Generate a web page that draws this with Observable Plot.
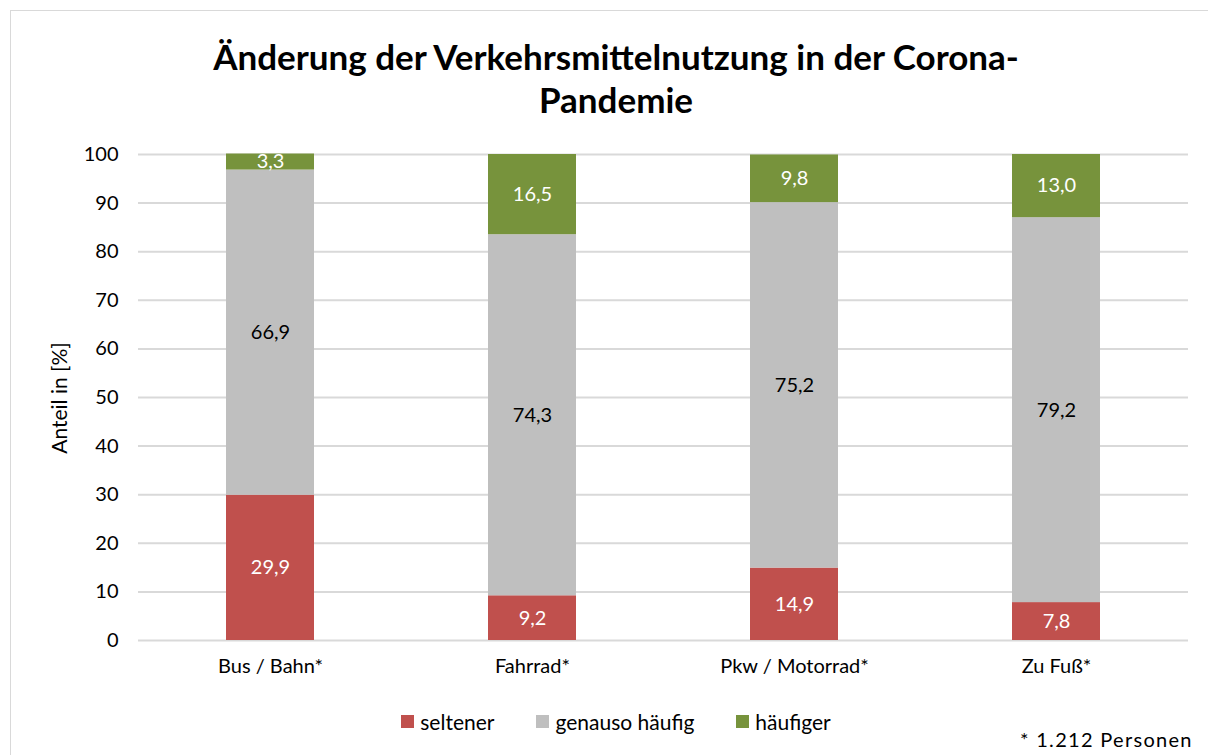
<!DOCTYPE html>
<html><head><meta charset="utf-8">
<script src="https://cdn.jsdelivr.net/npm/d3@7"></script>
<script src="https://cdn.jsdelivr.net/npm/@observablehq/plot@0.6"></script>
<style>
body{margin:0;background:#fff;font-family:Lato,"Open Sans",sans-serif;}
#frame{position:absolute;left:10px;top:10px;width:1210px;height:760px;border:1px solid #d9d9d9;box-sizing:border-box;}
#title{position:absolute;left:0;top:35px;width:1232px;text-align:center;font-weight:bold;font-size:35px;line-height:43px;color:#000;}
#chart{position:absolute;left:0;top:124px;}
#ylabel{position:absolute;left:58px;top:398px;transform:translate(-50%,-50%) rotate(-90deg);font-size:21px;white-space:nowrap;color:#000;}
#legend{position:absolute;top:709px;left:0;width:1232px;display:flex;justify-content:center;font-size:21px;color:#000;}
#legend span.item{display:flex;align-items:center;margin:0 21px;}
#legend span.sw{display:inline-block;width:13px;height:13px;margin-right:6px;}
#note{position:absolute;left:1020px;top:727px;font-size:20px;letter-spacing:1.3px;}
</style></head>
<body>
<div id="frame"></div>
<div id="title">Änderung der Verkehrsmittelnutzung in der Corona-<br>Pandemie</div>
<div id="chart"></div>
<div id="ylabel">Anteil in [%]</div>
<div id="legend"></div>
<div id="note">* 1.212 Personen</div>
<script>
const categories = ["Bus / Bahn*", "Fahrrad*", "Pkw / Motorrad*", "Zu Fuß*"];
const seriesNames = ["seltener", "genauso häufig", "häufiger"];
const seriesColors = ["#C0504D", "#BFBFBF", "#77933C"];
const seltener = [29.9, 9.2, 14.9, 7.8];
const genauso = [66.9, 74.3, 75.2, 79.2];
const haeufiger = [3.3, 16.5, 9.8, 13.0];
const yTicks = [0, 10, 20, 30, 40, 50, 60, 70, 80, 90, 100];

const valuesBySeries = [seltener, genauso, haeufiger];
const data = [];
seriesNames.forEach((s, i) => categories.forEach((c, j) => data.push({cat: c, series: s, value: valuesBySeries[i][j]})));
const fmt = v => d3.format(".1f")(v).replace(".", ",");
const stackOpts = {x: "cat", y: "value", z: "series", order: seriesNames};
const darkLabel = "genauso häufig";

const plot = Plot.plot({
  width: 1208, height: 560,
  marginLeft: 138, marginRight: 20, marginTop: 30, marginBottom: 44,
  style: {fontFamily: "Lato, 'Open Sans', sans-serif", fontSize: "20px", color: "#000", background: "transparent"},
  x: {domain: categories, padding: 0, label: null, tickSize: 0, tickPadding: 18},
  y: {domain: [0, 100], ticks: yTicks, tickSize: 0, tickPadding: 20, label: null},
  color: {domain: seriesNames, range: seriesColors},
  marks: [
    Plot.gridY(yTicks, {stroke: "#d9d9d9", strokeWidth: 2, strokeOpacity: 1}),
    Plot.barY(data, Plot.stackY({...stackOpts, fill: "series", insetLeft: 87, insetRight: 87})),
    Plot.text(data, Plot.stackY({...stackOpts, text: d => d.series !== darkLabel ? fmt(d.value) : null, fill: "white", fontSize: 20})),
    Plot.text(data, Plot.stackY({...stackOpts, text: d => d.series === darkLabel ? fmt(d.value) : null, fill: "black", fontSize: 20}))
  ]
});
document.getElementById("chart").appendChild(plot);

const lg = document.getElementById("legend");
seriesNames.forEach((s, i) => {
  const it = document.createElement("span"); it.className = "item";
  const sw = document.createElement("span"); sw.className = "sw"; sw.style.background = seriesColors[i];
  it.appendChild(sw); it.appendChild(document.createTextNode(s));
  lg.appendChild(it);
});
</script>
</body></html>
